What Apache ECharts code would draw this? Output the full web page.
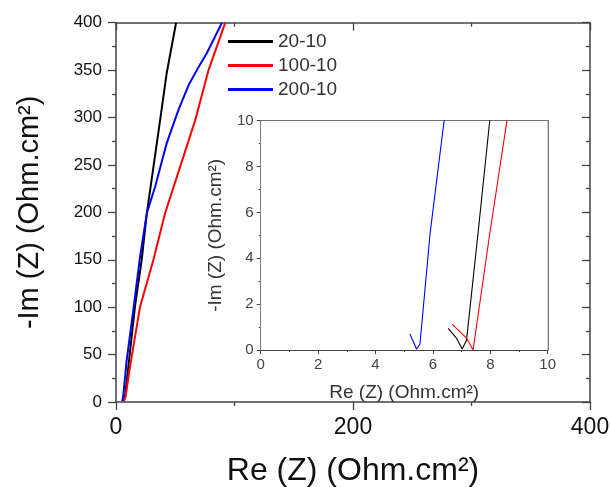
<!DOCTYPE html>
<html><head><meta charset="utf-8">
<script src="https://cdn.jsdelivr.net/npm/echarts@6/dist/echarts.min.js"></script>
<style>html,body{margin:0;padding:0;background:#fff}#c{width:610px;height:487px}</style>
</head><body><div id="c"></div>
<script>
var seriesNames = ['20-10', '100-10', '200-10'];
var seriesColors = ['#000000', '#ff0000', '#0000ff'];
// [Re(Z), -Im(Z)] in Ohm.cm²
var data20_10 = [[6.53,0.94],[6.82,0.52],[7.02,0.04],[7.17,0.41],[7.57,5.06],[7.98,10],[10.4,37],[16,100.5],[21.7,150],[26,199],[31.6,248],[37.2,297],[42.8,347],[50.7,400]];
var data100_10 = [[6.67,1.13],[7.17,0.52],[7.40,0],[7.98,5.06],[8.58,10],[11.8,37],[20.3,100.5],[31.6,150],[41.4,199],[54.1,248],[66.8,297],[78.1,350],[92.2,400]];
var data200_10 = [[5.20,0.70],[5.43,0.04],[5.55,0.26],[5.90,5.06],[6.39,10],[9,44],[14.6,97],[20.3,153],[26,199],[33,227],[42.8,273],[52.7,308],[61.2,334],[68.2,350],[76.7,368],[89.4,400]];
var allData = [data20_10, data100_10, data200_10];
var mainXTicks = [0, 200, 400];
var mainYTicks = [0, 50, 100, 150, 200, 250, 300, 350, 400];
var insetTicks = [0, 2, 4, 6, 8, 10];

var FONT = 'Liberation Sans';
var AX = '#444';
function axisBase(o) {
  var base = {
    splitLine: {show: false},
    axisLine: {show: true, onZero: false, lineStyle: {color: AX, width: 1.5}},
    axisTick: {show: true, inside: false, length: 8, lineStyle: {color: AX, width: 1.3}},
    minorTick: {show: true, splitNumber: 2, length: 4, lineStyle: {color: AX, width: 1.3}},
    nameTextStyle: {fontFamily: FONT, color: '#111'}
  };
  for (var k in o) base[k] = o[k];
  return base;
}
var chart = echarts.init(document.getElementById('c'));
var series = [];
for (var i = 0; i < 3; i++) {
  series.push({name: seriesNames[i], type: 'line', xAxisIndex: 0, yAxisIndex: 0, data: allData[i],
    symbol: 'none', clip: true, lineStyle: {color: seriesColors[i], width: 2}, itemStyle: {color: seriesColors[i]}, animation: false});
}
for (var j = 0; j < 3; j++) {
  series.push({name: seriesNames[j], type: 'line', xAxisIndex: 2, yAxisIndex: 2, data: allData[j],
    symbol: 'none', clip: true, lineStyle: {color: seriesColors[j], width: 1.1}, itemStyle: {color: seriesColors[j]}, animation: false, z: 5});
}
var insetTickStyle = {color: AX, width: 1};
chart.setOption({
  animation: false,
  backgroundColor: '#fff',
  textStyle: {fontFamily: FONT},
  grid: [
    {left: 116, right: 20, top: 22.7, bottom: 85, containLabel: false, outerBoundsMode: 'none'},
    {left: 260.7, right: 62.3, top: 120.7, bottom: 137, show: true, backgroundColor: '#fff', borderWidth: 0, z: 3, containLabel: false, outerBoundsMode: 'none'}
  ],
  legend: {
    data: seriesNames, orient: 'vertical', left: 223, top: 27, itemWidth: 45, itemHeight: 3, itemGap: 5,
    icon: 'rect',
    textStyle: {fontFamily: FONT, fontSize: 19, color: '#333'}
  },
  xAxis: [
    axisBase({gridIndex: 0, type: 'value', position: 'bottom', min: 0, max: 400, interval: 200,
      name: 'Re (Z) (Ohm.cm²)', nameLocation: 'middle', nameGap: 53,
      nameTextStyle: {fontFamily: FONT, fontSize: 32, color: '#111'},
      axisLabel: {fontFamily: FONT, fontSize: 23, color: '#111', margin: 14,
        formatter: function(v){ return mainXTicks.indexOf(v) >= 0 ? String(v) : ''; }}}),
    axisBase({gridIndex: 0, type: 'value', position: 'top', min: 0, max: 400, interval: 200,
      axisLabel: {show: false}, axisTick: {show: true, inside: true, length: 8, lineStyle: {color: AX, width: 1.3}},
      minorTick: {show: true, splitNumber: 2, length: 4, lineStyle: {color: AX, width: 1.3}}}),
    axisBase({gridIndex: 1, type: 'value', position: 'bottom', min: 0, max: 10, interval: 2,
      name: 'Re (Z) (Ohm.cm²)', nameLocation: 'middle', nameGap: 33,
      nameTextStyle: {fontFamily: FONT, fontSize: 19, color: '#333'},
      axisLine: {show: true, onZero: false, lineStyle: {color: AX, width: 1}},
      axisTick: {show: true, length: 4, lineStyle: insetTickStyle},
      minorTick: {show: true, splitNumber: 2, length: 2, lineStyle: insetTickStyle},
      axisLabel: {fontFamily: FONT, fontSize: 15, color: '#444', margin: 7,
        formatter: function(v){ return insetTicks.indexOf(v) >= 0 ? String(v) : ''; }}}),
    axisBase({gridIndex: 1, type: 'value', position: 'top', min: 0, max: 10, interval: 2,
      axisLabel: {show: false},
      axisLine: {show: true, onZero: false, lineStyle: {color: AX, width: 1}},
      axisTick: {show: true, inside: true, length: 4, lineStyle: insetTickStyle},
      minorTick: {show: true, splitNumber: 2, length: 2, lineStyle: insetTickStyle}})
  ],
  yAxis: [
    axisBase({gridIndex: 0, type: 'value', position: 'left', min: 0, max: 400, interval: 50,
      name: '-Im (Z) (Ohm.cm²)', nameLocation: 'middle', nameGap: 72, nameRotate: 90,
      nameTextStyle: {fontFamily: FONT, fontSize: 29, color: '#111'},
      axisLabel: {fontFamily: FONT, fontSize: 17, color: '#111', margin: 14,
        formatter: function(v){ return mainYTicks.indexOf(v) >= 0 ? String(v) : ''; }}}),
    axisBase({gridIndex: 0, type: 'value', position: 'right', min: 0, max: 400, interval: 50,
      axisLabel: {show: false}, axisTick: {show: true, inside: true, length: 8, lineStyle: {color: AX, width: 1.3}},
      minorTick: {show: true, splitNumber: 2, length: 4, lineStyle: {color: AX, width: 1.3}}}),
    axisBase({gridIndex: 1, type: 'value', position: 'left', min: 0, max: 10, interval: 2,
      name: '-Im (Z) (Ohm.cm²)', nameLocation: 'middle', nameGap: 35, nameRotate: 90,
      nameTextStyle: {fontFamily: FONT, fontSize: 19, color: '#333'},
      axisLine: {show: true, onZero: false, lineStyle: {color: AX, width: 1}},
      axisTick: {show: true, length: 4, lineStyle: insetTickStyle},
      minorTick: {show: true, splitNumber: 2, length: 2, lineStyle: insetTickStyle},
      axisLabel: {fontFamily: FONT, fontSize: 15, color: '#444', margin: 7,
        formatter: function(v){ return insetTicks.indexOf(v) >= 0 ? String(v) : ''; }}}),
    axisBase({gridIndex: 1, type: 'value', position: 'right', min: 0, max: 10, interval: 2,
      axisLabel: {show: false},
      axisLine: {show: true, onZero: false, lineStyle: {color: AX, width: 1.5}},
      axisTick: {show: true, inside: true, length: 4, lineStyle: insetTickStyle},
      minorTick: {show: true, splitNumber: 2, length: 2, lineStyle: insetTickStyle}})
  ],
  series: series
});
</script></body></html>
